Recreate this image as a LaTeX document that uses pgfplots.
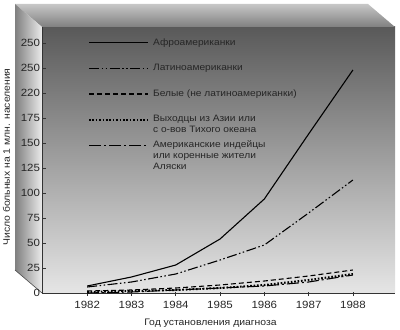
\documentclass[border=0pt]{standalone}
\usepackage{fontspec}
\setmainfont{Liberation Sans}[FakeStretch=1.1]
\usepackage{pgfplots}
\pgfplotsset{compat=1.18}
\newcommand{\hang}[1]{\raisebox{0pt}[\height][0pt]{\parbox[t]{150bp}{#1}}}
\begin{document}
\begin{tikzpicture}[x=1bp,y=1bp]
\useasboundingbox (0,0) rectangle (400,330);
% back wall
\shade[top color=black!65, middle color=black!30, bottom color=black!10] (42,37) rectangle (395,303);
% top face
\shade[top color=black!22, bottom color=black!50] (15,326) -- (368,326) -- (395,303) -- (42,303) -- cycle;
% left face
\shade[left color=black!50, right color=black!8] (15,326) -- (42,303) -- (42,37) -- (15,60) -- cycle;
\draw[black!70, line width=0.6bp] (15,60) -- (42,37);
\begin{axis}[
  at={(42bp,37bp)}, anchor=south west, scale only axis,
  width=353bp, height=266bp,
  xmin=1980.98, xmax=1988.95, ymin=0, ymax=266,
  axis x line*=bottom, axis y line*=left,
  axis line style={black!80, line width=0.6bp},
  xtick={1982,1983,1984,1985,1986,1987,1988},
  xticklabels={1982,1983,1984,1985,1986,1987,1988},
  ytick={0,25,50,75,100,125,150,175,200,225,250},
  yticklabels={0,25,50,75,100,125,150,175,220,250,250},
  tick align=inside, major tick length=4bp,
  tick style={black!80, line width=0.6bp},
  x tick style={yshift=-3bp},
  ticklabel style={font=\fontsize{10.5}{12}\selectfont, text=black!85},
  xticklabel style={yshift=-5bp},
  yticklabel style={xshift=1.5bp},
  xlabel={Год установления диагноза},
  ylabel={Число больных на 1 млн. населения},
  label style={font=\fontsize{9.5}{11}\selectfont, text=black!85},
  xlabel style={xshift=-8bp, yshift=-3bp},
  ylabel style={yshift=4bp, xshift=3bp},
  legend cell align=left,
  legend style={at={(0.13,0.96)}, anchor=north west, draw=none, fill=none,
    inner xsep=0pt, inner ysep=0pt, row sep=15.5bp, column sep=3bp,
    font=\fontsize{9.3}{10.8}\selectfont,
    nodes={align=left, inner sep=1bp, text=black!85}},
  legend image code/.code={\draw[#1] (0bp,0bp) -- (59bp,0bp);},
  every axis plot/.append style={black, line width=1.1bp},
]
\addplot[solid] coordinates {(1982,7)(1983,16)(1984,28)(1985,54)(1986,94)(1987,159)(1988,223)};
\addlegendentry{Афроамериканки}
\addplot[dash pattern=on 10bp off 2.5bp on 1.5bp off 2.5bp on 1.5bp off 2.5bp] coordinates {(1982,6)(1983,11)(1984,19)(1985,33)(1986,48)(1987,80)(1988,113)};
\addlegendentry{Латиноамериканки}
\addplot[dash pattern=on 5bp off 3bp] coordinates {(1982,2)(1983,3)(1984,5)(1985,8)(1986,12)(1987,17)(1988,23)};
\addlegendentry{Белые (не латиноамериканки)}
\addplot[line width=2bp, dash pattern=on 1.6bp off 1.8bp] coordinates {(1982,1)(1983,2)(1984,3)(1985,5)(1986,8)(1987,13)(1988,19)};
\addlegendentry{\hang{Выходцы из Азии или\\с о-вов Тихого океана}}
\addplot[dash pattern=on 12bp off 3bp on 2bp off 3bp] coordinates {(1982,0)(1983,1)(1984,3)(1985,5)(1986,7)(1987,11)(1988,18)};
\addlegendentry{\hang{Американские индейцы\\или коренные жители\\Аляски}}
\end{axis}
\end{tikzpicture}
\end{document}
